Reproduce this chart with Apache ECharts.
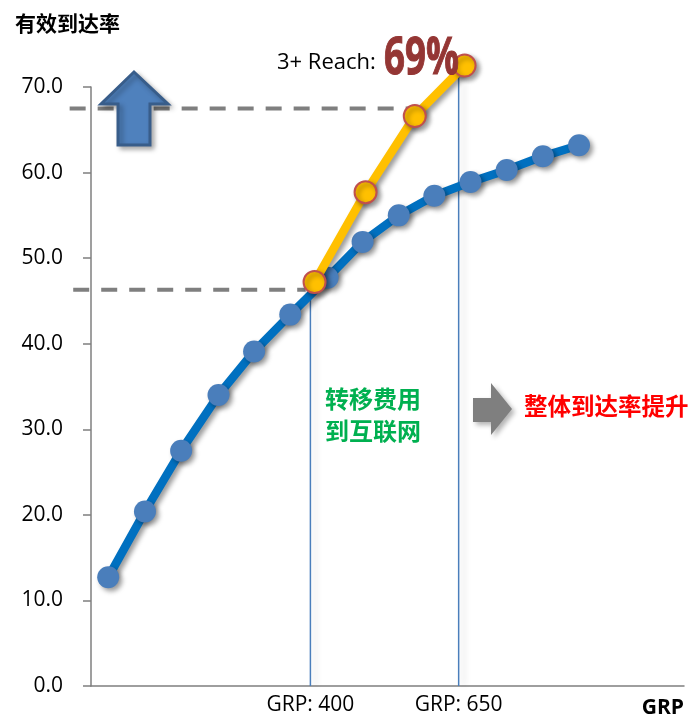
<!DOCTYPE html>
<html>
<head>
<meta charset="utf-8">
<script src="https://cdn.jsdelivr.net/npm/echarts@6/dist/echarts.min.js"></script>
<style>
  html, body { margin: 0; padding: 0; background: #fff; }
  #main { width: 692px; height: 719px; }
</style>
</head>
<body>
<div id="main"></div>
<script>
// 数据
var grpBlue = [59, 121, 182, 245, 305, 366, 429, 488, 549, 609, 670, 731, 792, 853];
var reachBlue = [12.7, 20.4, 27.5, 34.0, 39.1, 43.4, 47.7, 51.9, 55.0, 57.3, 58.9, 60.3, 61.9, 63.2];
var grpYellow = [407, 493, 576, 660];
var reachYellow = [47.2, 57.7, 66.6, 72.5];
var grpMarks = [400, 650];
// 竖线: [grp, top value]
var markTops = [46.3, 72.3];
// 虚线: [y value, from grp, to grp]
var dashLines = [[67.5, -6, 576], [46.3, 0, 392]];

var fontCN = '"Noto Sans CJK SC", sans-serif';
var fontEN = '"Open Sans", "Noto Sans", sans-serif';

var shadow = { shadowColor: 'rgba(0,0,0,0.4)', shadowBlur: 5, shadowOffsetX: 3, shadowOffsetY: 3 };

var chart = echarts.init(document.getElementById('main'));

var option = {
  animation: false,
  grid: { left: 91, right: 8, top: 87, bottom: 33 },
  xAxis: {
    type: 'value',
    min: 30,
    max: 1030,
    name: 'GRP',
    nameLocation: 'end',
    nameGap: 0,
    nameTextStyle: {
      align: 'right', verticalAlign: 'top', padding: [12, 0, 0, 0],
      fontFamily: fontEN, fontWeight: 'bold', fontSize: 21, color: '#000'
    },
    splitLine: { show: false },
    axisTick: { show: false },
    axisLine: { lineStyle: { color: '#7f7f7f', width: 1.5 } },
    axisLabel: {
      customValues: grpMarks,
      formatter: 'GRP: {value}',
      fontFamily: fontEN, fontSize: 21, color: '#000', margin: 9
    }
  },
  yAxis: {
    type: 'value',
    min: 0,
    max: 70,
    interval: 10,
    name: '有效到达率',
    nameLocation: 'end',
    nameGap: 64,
    nameTextStyle: {
      align: 'left', verticalAlign: 'middle', padding: [0, 0, 0, -76],
      fontFamily: fontCN, fontWeight: 'bold', fontSize: 21, color: '#000'
    },
    splitLine: { show: false },
    axisLine: { show: true, lineStyle: { color: '#7f7f7f', width: 1.5 } },
    axisTick: { show: true, length: 8, lineStyle: { color: '#7f7f7f', width: 1.5 } },
    axisLabel: {
      formatter: function (v) { return v.toFixed(1); },
      fontFamily: fontEN, fontSize: 21, color: '#000', margin: 28
    }
  },
  series: [
    {
      name: 'reach',
      type: 'line',
      data: grpBlue.map(function (g, i) { return [g, reachBlue[i]]; }),
      symbol: 'circle',
      symbolSize: 22,
      lineStyle: Object.assign({ color: '#0070c0', width: 8.5 }, shadow),
      itemStyle: Object.assign({ color: '#4a7ebb' }, shadow),
      z: 2
    },
    {
      name: '3+ reach',
      type: 'line',
      clip: false,
      data: grpYellow.map(function (g, i) { return [g, reachYellow[i]]; }),
      symbol: 'circle',
      symbolSize: 22,
      lineStyle: Object.assign({ color: '#ffc000', width: 8.5 }, shadow),
      itemStyle: Object.assign({ color: '#ffc000', borderColor: '#c0504d', borderWidth: 2 }, shadow),
      z: 3
    }
  ]
};
chart.setOption(option);

// annotations placed from the chart's own scales
var graphics = [];
dashLines.forEach(function (d) {
  var p1 = chart.convertToPixel({ gridIndex: 0 }, [d[1], d[0]]);
  var p2 = chart.convertToPixel({ gridIndex: 0 }, [d[2], d[0]]);
  graphics.push({
    type: 'line', z: 1,
    shape: { x1: p1[0], y1: p1[1], x2: p2[0], y2: p2[1] },
    style: { stroke: '#7f7f7f', lineWidth: 4, lineDash: [16, 12] }
  });
});
grpMarks.forEach(function (g, i) {
  var p1 = chart.convertToPixel({ gridIndex: 0 }, [g, markTops[i]]);
  var p2 = chart.convertToPixel({ gridIndex: 0 }, [g, 0]);
  graphics.push({
    type: 'line', z: 1,
    shape: { x1: p1[0], y1: p1[1], x2: p2[0], y2: p2[1] },
    style: { stroke: '#4a7ebb', lineWidth: 1.5, shadowColor: 'rgba(0,0,0,0.18)', shadowBlur: 6, shadowOffsetX: 5 }
  });
});

graphics.push({
  type: 'polygon', z: 5,
  shape: { points: [[134, 72], [168, 104], [150, 104], [150, 145], [118, 145], [118, 104], [101, 104]] },
  style: { fill: '#4f81bd', stroke: '#385d8a', lineWidth: 3, shadowColor: 'rgba(0,0,0,0.3)', shadowBlur: 5, shadowOffsetX: 3, shadowOffsetY: 3 }
});
graphics.push({
  type: 'polygon', z: 5,
  shape: { points: [[473, 398], [491, 398], [491, 383], [512, 409], [491, 435], [491, 422], [473, 422]] },
  style: { fill: '#7f7f7f', shadowColor: 'rgba(0,0,0,0.3)', shadowBlur: 5, shadowOffsetX: 3, shadowOffsetY: 3 }
});
graphics.push({
  type: 'text', z: 6, x: 277, y: 52,
  style: { text: '3+ Reach:', font: '22px ' + fontEN, fill: '#000' }
});
graphics.push({
  type: 'text', z: 6, x: 384, y: 33, scaleX: 0.78, scaleY: 1.1,
  style: { text: '69%', font: 'bold 47px ' + fontEN, fill: '#943634', stroke: '#943634', lineWidth: 1 }
});
graphics.push({
  type: 'text', z: 6, x: 325, y: 383,
  style: { text: '转移费用\n到互联网', font: 'bold 24px ' + fontCN, fill: '#00b050', lineHeight: 32 }
});
graphics.push({
  type: 'text', z: 6, x: 524, y: 394,
  style: { text: '整体到达率提升', font: 'bold 23.5px ' + fontCN, fill: '#ff0000' }
});

chart.setOption({ graphic: graphics });
</script>
</body>
</html>
